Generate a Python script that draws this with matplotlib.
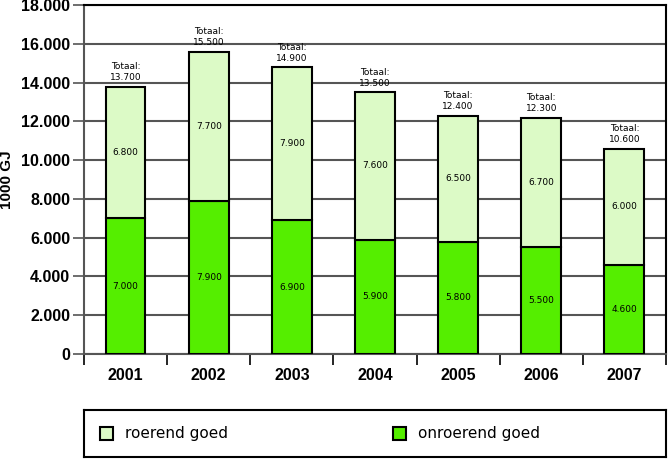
import matplotlib.pyplot as plt
import numpy as np

years = ['2001', '2002', '2003', '2004', '2005', '2006', '2007']
onroerend = [7000, 7900, 6900, 5900, 5800, 5500, 4600]
roerend = [6800, 7700, 7900, 7600, 6500, 6700, 6000]
totaal = [13700, 15500, 14900, 13500, 12400, 12300, 10600]


def nl(v):
    # dutch thousands separator
    return f'{v:,.0f}'.replace(',', '.')


plt.rcParams['font.family'] = ['Liberation Sans', 'DejaVu Sans']
fig = plt.figure(figsize=(6.68, 4.59), dpi=100)
ax = fig.add_axes([0.1257, 0.2288, 0.8713, 0.760])

x = np.arange(len(years))
w = 0.48
light = '#dcfac6'
bright = '#55ee00'
small = dict(fontsize=6.5, family='DejaVu Sans')

ax.bar(x, onroerend, w, color=bright, edgecolor='black', linewidth=1.5, zorder=3)
ax.bar(x, roerend, w, bottom=onroerend, color=light, edgecolor='black', linewidth=1.5, zorder=3)

for i in range(len(years)):
    ax.text(x[i], onroerend[i] / 2, nl(onroerend[i]), ha='center', va='center', zorder=4, **small)
    ax.text(x[i], onroerend[i] + roerend[i] / 2, nl(roerend[i]), ha='center', va='center', zorder=4, **small)
    ax.annotate('Totaal:\n' + nl(totaal[i]), (x[i], onroerend[i] + roerend[i]),
                xytext=(0, 3), textcoords='offset points', ha='center', va='bottom',
                linespacing=1.3, **small)

ax.set_xlim(-0.5, len(years) - 0.5)
ax.set_ylim(0, 18000)
ax.set_yticks(np.arange(0, 18001, 2000))
ax.set_yticklabels([nl(v) for v in np.arange(0, 18001, 2000)], fontsize=11.5, fontweight='bold')
ax.set_xticks(x)
ax.set_xticklabels(years, fontsize=11.5, fontweight='bold')
ax.set_xticks(np.arange(-0.5, len(years)), minor=True)
ax.tick_params(axis='x', which='major', length=0, pad=10)
ax.tick_params(axis='x', which='minor', length=8, width=1.2, color='black')
ax.tick_params(axis='y', length=8, width=1.2, color='#555555', pad=2)
ax.yaxis.grid(True, color='#555555', linewidth=1.5, zorder=0)
ax.set_axisbelow(True)
for s in ax.spines.values():
    s.set_linewidth(1.5)
ax.spines['left'].set_color('#555555')
ax.spines['bottom'].set_color('#555555')
ax.set_ylabel('1000 GJ', fontsize=11, fontweight='bold', labelpad=5)

# legend box drawn by hand
lax = fig.add_axes([0.1257, 0.004, 0.8713, 0.102])
lax.set_xlim(0, 582)
lax.set_ylim(0, 47)
lax.set_xticks([])
lax.set_yticks([])
for s in lax.spines.values():
    s.set_linewidth(1.5)
lax.add_patch(plt.Rectangle((16, 17), 13, 13, facecolor=light, edgecolor='black', linewidth=1.5))
lax.text(41, 23.5, 'roerend goed', fontsize=11, family='DejaVu Sans', va='center')
lax.add_patch(plt.Rectangle((309, 17), 13, 13, facecolor=bright, edgecolor='black', linewidth=1.5))
lax.text(334, 23.5, 'onroerend goed', fontsize=11, family='DejaVu Sans', va='center')

fig.savefig('out.png', dpi=100)
